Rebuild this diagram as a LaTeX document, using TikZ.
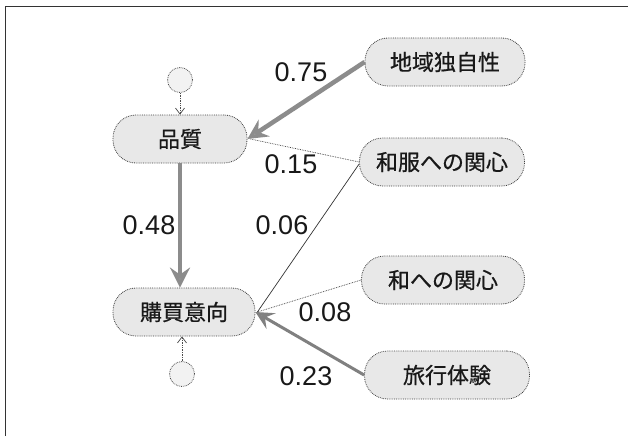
\documentclass[tikz,border=0pt]{standalone}
\usepackage{fontspec}
\setmainfont{Liberation Sans}
\newfontfamily\jpfont[FakeBold=0.6]{Noto Sans CJK JP}
\usetikzlibrary{arrows.meta}
\begin{document}
\begin{tikzpicture}[x=1pt,y=-1pt,
  pill/.style={draw=black!75, densely dotted, line width=0.8pt, fill=black!9, rounded corners=23pt,
    minimum height=48pt, inner sep=0pt, font=\jpfont\fontsize{22}{24}\selectfont, text=black!90},
  ball/.style={draw=black!70, densely dotted, line width=0.8pt, fill=black!5, circle, minimum size=25pt, inner sep=0pt},
  num/.style={font=\fontsize{27}{30}\selectfont, text=black!90, inner sep=0pt},
  heavy/.style={draw=black!45, line width=4.5pt, -{Stealth[length=20pt,width=20pt,inset=7pt,fill=black!40]}},
  medium/.style={draw=black!50, line width=3pt, -{Stealth[length=18pt,width=18pt,inset=7pt,fill=black!45]}},
  thin/.style={draw=black!80, line width=0.7pt},
  thindot/.style={draw=black!80, line width=0.7pt, densely dotted},
  feed/.style={draw=black!70, line width=0.7pt, densely dotted, -{Straight Barb[length=6pt,width=9pt]}}
]
\useasboundingbox (0,0) rectangle (628,436);
\fill[white] (0,0) rectangle (628,436);
\coordinate (fTL) at (5,7);
\coordinate (fTR) at (628,7);
\coordinate (fBL) at (5,436);
\draw[black!80, line width=1pt] (fBL) -- (fTL) -- (fTR);

\node[pill, minimum width=134pt] (q) at (180,139) {品質};
\node[pill, minimum width=142pt] (p) at (184,312) {購買意向};
\node[pill, minimum width=160pt] (r) at (445,62) {地域独自性};
\node[pill, minimum width=165pt] (k) at (442,162) {和服への関心};
\node[pill, minimum width=163pt] (w) at (443,280) {和への関心};
\node[pill, minimum width=165pt] (t) at (447,375) {旅行体験};

\node[ball] (c1) at (180,80) {};
\node[ball] (c2) at (182,374) {};

\draw[feed] (c1) -- (q);
\draw[feed] (c2) -- (p.south -| c2);

\draw[thindot] (k.west) -- ([xshift=3pt]q.east);
\draw[thin] ([yshift=-2pt]k.west) -- ([xshift=2pt]p.east);
\draw[thindot] (w.west) -- ([xshift=2pt]p.east);
\draw[medium] (t.west) -- (p.east);
\draw[heavy] (r.west) -- (q.east);
\draw[heavy] (q.south) -- (p.north -| q.south);

\node[num] (l75) at (301,72) {0.75};
\node[num] (l15) at (291,164) {0.15};
\node[num] (l48) at (149,225) {0.48};
\node[num] (l06) at (282,225) {0.06};
\node[num] (l08) at (325,312) {0.08};
\node[num] (l23) at (306,376) {0.23};
\end{tikzpicture}
\end{document}
